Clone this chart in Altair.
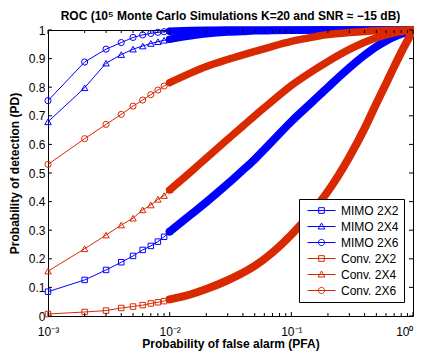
import altair as alt
import pandas as pd

# ---- data ----
pfa = [0.001, 0.002, 0.003, 0.004, 0.005, 0.006, 0.007, 0.008, 0.009, 0.01,
       0.015, 0.02, 0.03, 0.04, 0.05, 0.07, 0.1, 0.15, 0.2, 0.3, 0.4, 0.5,
       0.6, 0.7, 0.8, 0.9, 1.0]

mimo_2x2 = [0.085, 0.126, 0.161, 0.188, 0.210, 0.231, 0.245, 0.260, 0.277, 0.295,
            0.355, 0.398, 0.462, 0.510, 0.548, 0.612, 0.680, 0.750, 0.800, 0.868,
            0.912, 0.942, 0.962, 0.976, 0.986, 0.994, 1.0]
mimo_2x4 = [0.679, 0.798, 0.884, 0.914, 0.933, 0.944, 0.953, 0.959, 0.964, 0.968,
            0.980, 0.987, 0.993, 0.995, 0.997, 0.998, 0.999, 1.0, 1.0, 1.0,
            1.0, 1.0, 1.0, 1.0, 1.0, 1.0, 1.0]
mimo_2x6 = [0.753, 0.888, 0.933, 0.956, 0.974, 0.983, 0.988, 0.992, 0.994, 0.996,
            0.998, 0.999, 1.0, 1.0, 1.0, 1.0, 1.0, 1.0, 1.0, 1.0,
            1.0, 1.0, 1.0, 1.0, 1.0, 1.0, 1.0]
conv_2x2 = [0.007, 0.014, 0.019, 0.028, 0.033, 0.038, 0.044, 0.048, 0.052, 0.058,
            0.076, 0.094, 0.125, 0.151, 0.175, 0.222, 0.284, 0.367, 0.436, 0.556,
            0.656, 0.743, 0.812, 0.872, 0.922, 0.963, 1.0]
conv_2x4 = [0.157, 0.235, 0.283, 0.318, 0.342, 0.371, 0.388, 0.408, 0.421, 0.441,
            0.505, 0.552, 0.618, 0.664, 0.700, 0.752, 0.806, 0.857, 0.890, 0.932,
            0.957, 0.973, 0.983, 0.990, 0.995, 0.998, 1.0]
conv_2x6 = [0.530, 0.620, 0.670, 0.705, 0.734, 0.755, 0.774, 0.790, 0.804, 0.816,
            0.850, 0.872, 0.897, 0.913, 0.925, 0.943, 0.960, 0.975, 0.984, 0.991,
            0.995, 0.997, 0.998, 0.999, 0.999, 1.0, 1.0]

series_names = ["MIMO 2X2", "MIMO 2X4", "MIMO 2X6", "Conv. 2X2", "Conv. 2X4", "Conv. 2X6"]
series_values = [mimo_2x2, mimo_2x4, mimo_2x6, conv_2x2, conv_2x4, conv_2x6]

x_major = [0.001, 0.01, 0.1, 1.0]
x_labels = ["10⁻³", "10⁻²", "10⁻¹", "10⁰"]
x_minor = [0.002, 0.003, 0.004, 0.005, 0.006, 0.007, 0.008, 0.009,
           0.02, 0.03, 0.04, 0.05, 0.06, 0.07, 0.08, 0.09,
           0.2, 0.3, 0.4, 0.5, 0.6, 0.7, 0.8, 0.9]
y_ticks = [0, 0.1, 0.2, 0.3, 0.4, 0.5, 0.6, 0.7, 0.8, 0.9, 1.0]

title_text = "ROC (10⁵ Monte Carlo Simulations K=20 and SNR ≈ −15 dB)"

# ---- styles ----
BLUE = "#0000FF"
RED = "#D92900"
series_colors = [BLUE] * 3 + [RED] * 3
marker_shapes = ["square", "triangle-up", "circle"] * 2
marker_sizes = [30, 42, 38] * 2
band_widths = [8, 7.5, 7.5] * 2
legend_paths = [
    "M-2.33,0H2.33M-0.47,-0.47H0.47V0.47H-0.47Z",
    "M-2.33,0H2.33M0,-0.58L0.56,0.42H-0.56Z",
    "M-2.33,0H2.33M0.52,0A0.52,0.52,0,1,1,-0.52,0A0.52,0.52,0,1,1,0.52,0Z",
] * 2

W, H = 365, 286
FONT = "Liberation Sans"

rows = []
for name, vals in zip(series_names, series_values):
    for x, y in zip(pfa, vals):
        rows.append({"series": name, "pfa": x, "pd": y})
df = pd.DataFrame(rows)

xscale = alt.Scale(type="log", domain=[0.001, 1], nice=False)
yscale = alt.Scale(domain=[0, 1], nice=False)

label_expr = ""
for t, lab in zip(x_major[:-1], x_labels[:-1]):
    label_expr += f"datum.value < {t * 3.16} ? '{lab}' : "
label_expr += f"'{x_labels[-1]}'"

x_axis = alt.Axis(values=x_major, labelExpr=label_expr,
                  labelAlign={"condition": {"test": "datum.value >= 0.5", "value": "right"},
                              "value": "center"},
                  title="Probability of false alarm (PFA)",
                  labelBaseline="alphabetic", labelPadding=19,
                  titleY=31.5, titleBaseline="alphabetic")
y_axis = alt.Axis(values=y_ticks, format=".1~f",
                  title="Probability of detection (PD)",
                  labelPadding=3, titleX=-34, titleY=H / 2,
                  titleBaseline="middle", titleAngle=270)


def xa(f):
    return alt.X(f, scale=xscale, axis=x_axis)


def ya(f):
    return alt.Y(f, scale=yscale, axis=y_axis)


layers = []
for name, color, shape, msize, bw in zip(series_names, series_colors, marker_shapes,
                                         marker_sizes, band_widths):
    base = alt.Chart(df).transform_filter(alt.datum.series == name)
    thin = base.transform_filter(alt.datum.pfa <= 0.0101).mark_line(
        color=color, strokeWidth=1).encode(x=xa("pfa:Q"), y=ya("pd:Q"))
    band = base.transform_filter(alt.datum.pfa >= 0.0099).mark_line(
        color=color, strokeWidth=bw, interpolate="monotone",
        strokeCap="round", strokeJoin="round").encode(x=xa("pfa:Q"), y=ya("pd:Q"))
    pts = base.transform_filter(alt.datum.pfa <= 0.0101).mark_point(
        shape=shape, size=msize, color=color, filled=False,
        strokeWidth=1, opacity=1).encode(x=xa("pfa:Q"), y=ya("pd:Q"))
    layers += [thin, band, pts]

# ticks pointing inward (box style)
maj = pd.DataFrame({"pfa": x_major})
mnr = pd.DataFrame({"pfa": x_minor})
yt = pd.DataFrame({"pd": y_ticks})
tick_style = dict(color="black", strokeWidth=1)
layers += [
    alt.Chart(maj).mark_rule(**tick_style).encode(x=xa("pfa:Q"), y=alt.value(H), y2=alt.value(H - 4)),
    alt.Chart(maj).mark_rule(**tick_style).encode(x=xa("pfa:Q"), y=alt.value(0), y2=alt.value(4)),
    alt.Chart(mnr).mark_rule(**tick_style).encode(x=xa("pfa:Q"), y=alt.value(H), y2=alt.value(H - 3)),
    alt.Chart(mnr).mark_rule(**tick_style).encode(x=xa("pfa:Q"), y=alt.value(0), y2=alt.value(3)),
    alt.Chart(yt).mark_rule(**tick_style).encode(y=ya("pd:Q"), x=alt.value(0), x2=alt.value(4)),
    alt.Chart(yt).mark_rule(**tick_style).encode(y=ya("pd:Q"), x=alt.value(W), x2=alt.value(W - 4)),
]

# chart title as a text mark placed just above the plot box
layers.append(
    alt.Chart(pd.DataFrame({"title": [title_text]})).mark_text(
        font=FONT, fontSize=12, fontWeight="bold", color="black",
        align="center", baseline="alphabetic").encode(
        text="title:N", x=alt.value(W / 2), y=alt.value(-10.4))
)

# legend (from scales only)
legend_df = pd.DataFrame({"series": series_names, "pfa": [0.5] * 6, "pd": [0.5] * 6})
leg = alt.Legend(orient="none", legendX=251, legendY=169, title=None,
                 padding=5, symbolSize=144, symbolOffset=11, labelOffset=13,
                 rowPadding=3.0, strokeColor="black", fillColor="white",
                 labelFont=FONT, labelFontSize=12, labelColor="black",
                 symbolStrokeWidth=1, cornerRadius=0)
layers.append(
    alt.Chart(legend_df).transform_filter("false").mark_point(
        filled=False, opacity=1, strokeWidth=1).encode(
        x=xa("pfa:Q"), y=ya("pd:Q"),
        color=alt.Color("series:N", scale=alt.Scale(domain=series_names, range=series_colors), legend=leg),
        shape=alt.Shape("series:N", scale=alt.Scale(domain=series_names, range=legend_paths), legend=leg),
    )
)

chart = alt.layer(*layers).properties(
    width=W, height=H,
    autosize=alt.AutoSizeParams(type="none"),
    padding={"left": 40, "top": 22, "right": 1, "bottom": 36},
).configure_view(stroke="black", strokeWidth=1).configure_axis(
    domain=False, ticks=False, tickSize=0, grid=False,
    labelFont=FONT, labelFontSize=12, labelColor="black",
    titleFont=FONT, titleFontSize=12, titleFontWeight="bold", titleColor="black",
)

chart.save("out.html", embed_options={"renderer": "svg", "actions": False})
